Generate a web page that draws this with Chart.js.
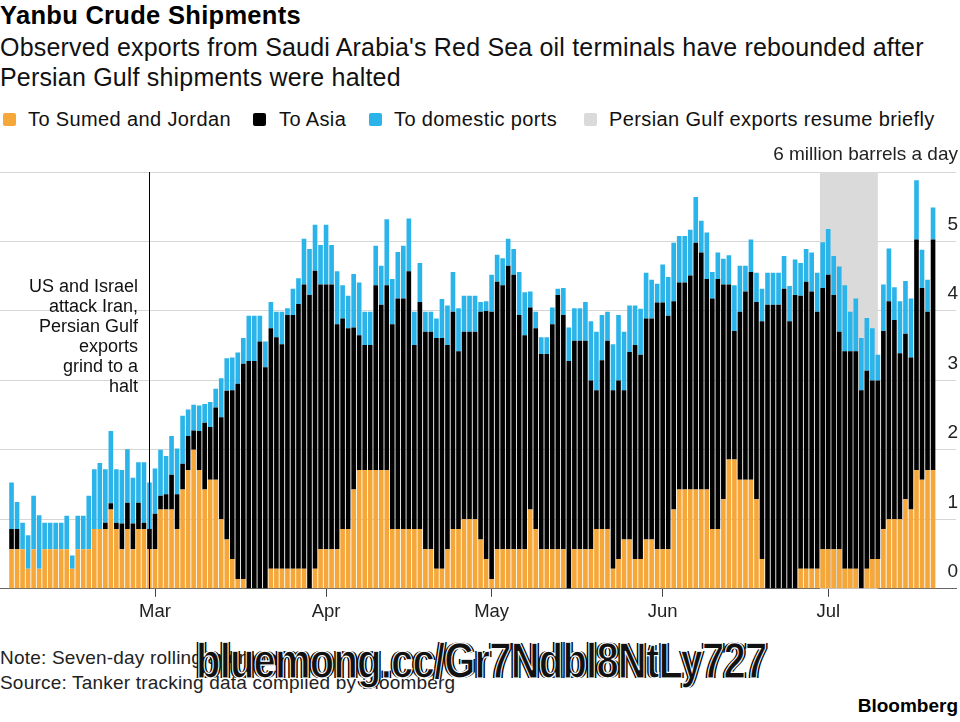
<!DOCTYPE html>
<html>
<head>
<meta charset="utf-8">
<script src="https://cdn.jsdelivr.net/npm/chart.js@4.4.1/dist/chart.umd.min.js"></script>
<style>
  body { margin: 0; width: 960px; height: 722px; position: relative; overflow: hidden; background: #fff;
         font-family: "Liberation Sans", Arial, sans-serif; color: #000; }
  .t { position: absolute; white-space: nowrap; }
  #title { left: 0; top: 0; font-size: 25.5px; line-height: 30px; font-weight: bold; letter-spacing: 0.3px; }
  #subtitle { left: 0; top: 32px; font-size: 25px; line-height: 30px; color: #111; letter-spacing: 0.18px; }
  .sw { position: absolute; top: 113px; width: 13px; height: 13px; border-radius: 2px; }
  .lg { position: absolute; top: 107px; font-size: 20px; line-height: 24px; color: #111; white-space: nowrap; letter-spacing: 0.38px; }
  #note { right: 822px; top: 276px; font-size: 18px; line-height: 20px; text-align: right; color: #111; }
  .foot { left: 0; font-size: 19px; line-height: 25px; color: #222; letter-spacing: 0.2px; }
  #brand { right: 2px; top: 695px; font-size: 19px; line-height: 22px; font-weight: bold; }
  #wm { left: 196px; top: 632px; font-size: 40px; line-height: 46px; font-weight: bold; color: #111; letter-spacing: -0.8px;
        transform: scaleY(1.25); transform-origin: 0 0;
        -webkit-text-stroke: 1px #fff; text-shadow: 2px 0 0 #000, -2px 0 0 #000; }
  #wrap { position: absolute; left: 0; top: 140px; width: 960px; height: 490px; }
</style>
</head>
<body>
<div class="t" id="title">Yanbu Crude Shipments</div>
<div class="t" id="subtitle">Observed exports from Saudi Arabia's Red Sea oil terminals have rebounded after<br>Persian Gulf shipments were halted</div>

<div class="sw" style="left:3px;background:#F6A73A"></div><div class="lg" style="left:28px">To Sumed and Jordan</div>
<div class="sw" style="left:253px;background:#000"></div><div class="lg" style="left:279px">To Asia</div>
<div class="sw" style="left:369px;background:#2BB4EA"></div><div class="lg" style="left:394px">To domestic ports</div>
<div class="sw" style="left:584px;background:#DADADA"></div><div class="lg" style="left:609px">Persian Gulf exports resume briefly</div>

<div id="wrap"><canvas id="chart" width="960" height="490"></canvas></div>

<div class="t" id="note">US and Israel<br>attack Iran,<br>Persian Gulf<br>exports<br>grind to a<br>halt</div>

<div class="t foot" style="top:645px">Note: Seven-day rolling average</div>
<div class="t foot" style="top:670px">Source: Tanker tracking data compiled by Bloomberg</div>
<div class="t" id="brand">Bloomberg</div>
<div class="t" id="wm">bluemong.cc/Gr7Ndbl8NtLy727</div>

<script>
// daily values, million barrels a day (7-day rolling average), Feb 3 onwards
const sumedJordan = [
  0.57, 0.57, 0.57, 0.29, 0.57, 0.29, 0.57, 0.57, 0.57, 0.57,
  0.57, 0.29, 0.57, 0.57, 0.57, 0.86, 0.86, 0.86, 1.14, 0.86,
  0.57, 0.86, 0.57, 0.86, 0.86, 0.57, 0.57, 1.14, 1.14, 1.14,
  0.86, 1.43, 1.71, 2.00, 1.71, 1.43, 1.57, 1.57, 1.00, 0.71,
  0.43, 0.14, 0.14, 0, 0, 0, 0, 0.29, 0.29, 0.29,
  0.29, 0.29, 0.29, 0.29, 0, 0.29, 0.57, 0.57, 0.57, 0.57,
  0.86, 0.86, 1.43, 1.71, 1.71, 1.71, 1.71, 1.71, 1.71, 0.86,
  0.86, 0.86, 0.86, 0.86, 0.86, 0.57, 0.57, 0.29, 0.29, 0.57,
  0.86, 0.86, 1.00, 1.00, 1.00, 0.71, 0.43, 0.14, 0.57, 0.57,
  0.57, 0.57, 0.57, 0.57, 1.14, 0.86, 0.57, 0.57, 0.57, 0.57,
  0.57, 0, 0.57, 0.57, 0.57, 0.57, 0.86, 0.86, 0.86, 0.29,
  0.43, 0.71, 0.71, 0.43, 0.43, 0.71, 0.71, 0.57, 0.57, 0.57,
  1.14, 1.43, 1.43, 1.43, 1.43, 1.43, 1.43, 0.86, 0.86, 1.29,
  1.86, 1.86, 1.57, 1.57, 1.57, 1.29, 0.43, 0, 0, 0,
  0, 0, 0, 0.29, 0.29, 0.29, 0.29, 0.57, 0.57, 0.57,
  0.57, 0.29, 0.29, 0.29, 0, 0.29, 0.43, 0.43, 0.86, 1.00,
  1.00, 1.00, 1.29, 1.14, 1.71, 1.57, 1.71, 1.71
];
const asia = [
  0.29, 0.29, 0, 0, 0, 0, 0, 0, 0, 0,
  0, 0, 0, 0, 0, 0, 0, 0.09, 0.09, 0.09,
  0.37, 0.38, 0.37, 0.38, 0.09, 0.29, 0.51, 0.20, 0.22, 0.50,
  0.50, 0.37, 0.49, 0.28, 0.56, 0.96, 0.76, 1.04, 1.47, 2.14,
  2.43, 2.81, 3.10, 3.28, 3.28, 3.56, 3.19, 3.46, 3.33, 3.23,
  3.65, 3.65, 3.81, 4.09, 4.23, 4.29, 3.81, 3.81, 3.81, 3.24,
  3.03, 2.89, 2.33, 1.94, 1.80, 1.80, 2.66, 2.38, 2.66, 2.95,
  3.32, 3.32, 3.71, 2.65, 3.27, 3.13, 3.13, 3.32, 3.32, 2.94,
  3.13, 2.56, 2.70, 2.70, 2.70, 3.28, 3.57, 3.85, 3.85, 3.80,
  4.08, 3.95, 3.37, 3.08, 2.91, 2.89, 2.81, 2.81, 3.24, 3.66,
  3.37, 3.28, 3.00, 3.00, 3.00, 2.43, 2.00, 2.43, 2.71, 2.57,
  2.57, 2.15, 2.70, 3.08, 2.94, 3.18, 3.18, 3.55, 3.55, 3.36,
  3.00, 2.98, 2.98, 3.08, 3.55, 3.41, 3.03, 3.32, 3.60, 3.09,
  2.52, 1.85, 2.42, 2.71, 2.99, 2.84, 3.42, 4.09, 4.09, 4.09,
  4.32, 3.85, 4.23, 3.93, 4.13, 3.99, 3.70, 3.76, 3.95, 3.66,
  3.13, 3.13, 3.13, 3.13, 2.86, 2.85, 2.57, 2.57, 2.85, 3.14,
  2.87, 2.39, 2.38, 2.19, 3.32, 2.76, 2.28, 3.32
];
const domestic = [
  0.67, 0.39, 0.38, 0.48, 0.77, 0.77, 0.38, 0.38, 0.38, 0.38,
  0.48, 0.19, 0.48, 0.48, 0.77, 0.86, 0.95, 0.77, 1.04, 0.77,
  0.77, 0.77, 0.66, 0.58, 0.87, 0.67, 0.65, 0.66, 0.55, 0.56,
  0.66, 0.69, 0.38, 0.37, 0.37, 0.27, 0.36, 0.27, 0.56, 0.47,
  0.47, 0.45, 0.37, 0.65, 0.65, 0.37, 0.37, 0.38, 0.37, 0.47,
  0.10, 0.38, 0.37, 0.66, 0.66, 0.66, 0.57, 0.86, 0.57, 0.76,
  0.48, 0.47, 0.77, 0.76, 0.48, 0.48, 0.57, 0.56, 0.95, 0.65,
  0.67, 0.76, 0.76, 0.48, 0.56, 0.29, 0.29, 0.28, 0.56, 0.57,
  0.57, 0.62, 0.52, 0.52, 0.52, 0.14, 0.14, 0.53, 0.39, 0.39,
  0.39, 0.37, 0.62, 0.62, 0.23, 0.24, 0.24, 0.24, 0.24, 0.09,
  0.39, 0.48, 0.47, 0.47, 0.56, 0.85, 0.84, 0.65, 0.42, 0.66,
  0.94, 0.84, 0.67, 0.57, 0.66, 0.66, 0.56, 0.27, 0.55, 0.56,
  0.84, 0.67, 0.67, 0.66, 0.66, 0.46, 0.67, 0.38, 0.38, 0.37,
  0.42, 0.66, 0.66, 0.37, 0.47, 0.42, 0.47, 0.46, 0.46, 0.46,
  0.47, 0.51, 0.51, 0.47, 0.47, 0.56, 0.56, 0.66, 0.66, 0.56,
  0.94, 0.95, 0.57, 0.76, 0.75, 0.76, 0.75, 0.37, 0.67, 0.76,
  0.47, 0.75, 0.76, 0.85, 0.85, 0.55, 0.46, 0.46
];
const monthNames = ['Jan', 'Feb', 'Mar', 'Apr', 'May', 'Jun', 'Jul', 'Aug'];
const yTicks = [0, 1, 2, 3, 4, 5, 6];
const attackDay = 25;            // Feb 28
const resumeSpan = [146.5, 157]; // Jun 30 - Jul 10

const firstDay = Date.UTC(2026, 1, 3);
const days = sumedJordan.map((v, i) => new Date(firstDay + i * 86400000));
const pts = arr => arr.map((v, i) => ({ x: i, y: v }));

const marks = {
  id: 'marks',
  beforeDatasetsDraw(chart) {
    const { ctx, chartArea, scales: { x } } = chart;
    const x0 = x.getPixelForValue(resumeSpan[0]);
    const x1 = x.getPixelForValue(resumeSpan[1]);
    ctx.save();
    ctx.fillStyle = '#DADADA';
    ctx.fillRect(x0, chartArea.top, x1 - x0, chartArea.bottom - chartArea.top);
    ctx.restore();
  },
  afterDatasetsDraw(chart) {
    const { ctx, chartArea, scales: { x } } = chart;
    const px = Math.round(x.getPixelForValue(attackDay)) + 0.5;
    ctx.save();
    ctx.strokeStyle = '#000';
    ctx.lineWidth = 1;
    ctx.beginPath();
    ctx.moveTo(px, chartArea.top);
    ctx.lineTo(px, chartArea.bottom);
    ctx.stroke();
    ctx.restore();
  }
};

new Chart(document.getElementById('chart'), {
  type: 'bar',
  data: {
    datasets: [
      { label: 'To Sumed and Jordan', data: pts(sumedJordan), backgroundColor: '#F6A73A' },
      { label: 'To Asia', data: pts(asia), backgroundColor: '#000000' },
      { label: 'To domestic ports', data: pts(domestic), backgroundColor: '#2BB4EA' }
    ]
  },
  options: {
    responsive: false,
    animation: false,
    borderWidth: 0,
    barPercentage: 0.84,
    categoryPercentage: 1,
    layout: { padding: { top: 32, bottom: 3, left: 0, right: 0 } },
    plugins: { legend: { display: false }, tooltip: { enabled: false } },
    scales: {
      x: {
        type: 'linear',
        stacked: true,
        offset: false,
        min: -2.09,
        max: 171.16,
        afterBuildTicks: scale => {
          scale.ticks = days.map((d, i) => ({ value: i, d: d }))
            .filter(t => t.d.getUTCDate() === 1)
            .map(t => ({ value: t.value }));
        },
        ticks: {
          autoSkip: false,
          maxRotation: 0,
          padding: 4,
          color: '#222',
          font: { family: '"Liberation Sans", Arial, sans-serif', size: 18.5 },
          callback: v => monthNames[days[v].getUTCMonth()]
        },
        grid: { offset: false, drawOnChartArea: false, drawTicks: true, tickLength: 8, color: '#444' },
        border: { display: true, color: '#666', width: 1 }
      },
      y: {
        position: 'right',
        stacked: true,
        min: 0,
        max: 6,
        afterBuildTicks: scale => { scale.ticks = yTicks.map(v => ({ value: v })); },
        ticks: {
          mirror: true,
          padding: 2,
          labelOffset: -17,
          color: '#222',
          font: { family: '"Liberation Sans", Arial, sans-serif', size: 19 },
          callback: v => v === 6 ? '6 million barrels a day' : v
        },
        grid: {
          drawTicks: false,
          color: ctx => ctx.tick && ctx.tick.value === 0 ? 'rgba(0,0,0,0)' : '#D6D6D6'
        },
        border: { display: false }
      }
    }
  },
  plugins: [marks]
});
</script>
</body>
</html>
